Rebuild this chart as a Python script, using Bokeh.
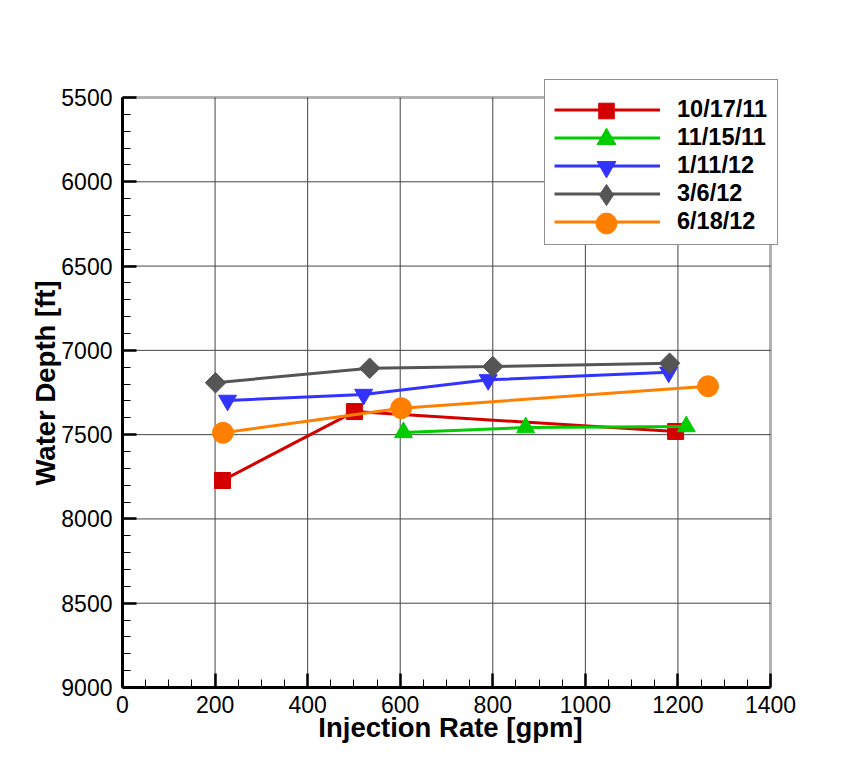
import math
from bokeh.plotting import figure
from bokeh.models import (Range1d, SingleIntervalTicker, Legend, LegendItem,
                          BoxAnnotation, CDSView, IndexFilter)
from bokeh.embed import file_html
from bokeh.resources import INLINE

# ---------------- data ----------------
dates = ["10/17/11", "11/15/11", "1/11/12", "3/6/12", "6/18/12"]
rate_101711 = [216, 501, 1195]
depth_101711 = [7772, 7363, 7481]
rate_111511 = [607, 871, 1218]
depth_111511 = [7487, 7458, 7452]
rate_011112 = [227, 521, 790, 1180]
depth_011112 = [7297, 7262, 7175, 7130]
rate_030612 = [201, 534, 800, 1182]
depth_030612 = [7192, 7106, 7096, 7076]
rate_061812 = [217, 602, 1265]
depth_061812 = [7489, 7343, 7213]

x_ticks = [0, 200, 400, 600, 800, 1000, 1200, 1400]
y_ticks = [5500, 6000, 6500, 7000, 7500, 8000, 8500, 9000]

series = [
    (rate_101711, depth_101711),
    (rate_111511, depth_111511),
    (rate_011112, depth_011112),
    (rate_030612, depth_030612),
    (rate_061812, depth_061812),
]

# ---------------- styles ----------------
colors = ["#d40000", "#00cc00", "#3333ff", "#555555", "#ff8000"]
markers = ["square", "triangle", "inverted_triangle", "square", "circle"]
sizes = [16, 18, 18, 14.5, 21]
angles = [0, 0, 0, math.pi / 4, 0]
legend_markers = ["square", "triangle", "inverted_triangle", "diamond", "circle"]
legend_glyph_h = [39, 47, 47, 53, 52]   # legend marker size = 0.4 * glyph height

FONT = "Liberation Sans"

# plot box (visible) and bokeh frame (slightly larger, to host the legend)
X0, X1 = x_ticks[0], x_ticks[-1]
Y0, Y1 = y_ticks[0], y_ticks[-1]
BOX_L, BOX_T, BOX_R, BOX_B = 122, 97, 770, 687
FL, FT, FR, FB = 122, 78, 778, 687
W, H = 851, 756
sx = (BOX_R - BOX_L) / (X1 - X0)
sy = (BOX_B - BOX_T) / (Y1 - Y0)
x_end = X1 + (FR - BOX_R) / sx
y_end = Y0 - (BOX_T - FT) / sy

p = figure(width=W, height=H, output_backend="svg", toolbar_location=None,
           x_range=Range1d(X0, x_end), y_range=Range1d(Y1, y_end),
           min_border_left=FL, min_border_top=FT,
           min_border_right=W - FR, min_border_bottom=H - FB)
p.background_fill_color = "white"
p.border_fill_color = "white"
p.outline_line_color = None
p.grid.visible = False

p.xaxis.ticker = SingleIntervalTicker(interval=200, num_minor_ticks=4)
p.yaxis.ticker = SingleIntervalTicker(interval=500, num_minor_ticks=5)
p.xaxis.bounds = (X0, X1)
p.yaxis.bounds = (Y0, Y1)

for ax in (p.xaxis[0], p.yaxis[0]):
    ax.axis_line_width = 3
    ax.axis_line_color = "black"
    ax.major_tick_in = 14
    ax.major_tick_out = 0
    ax.major_tick_line_width = 2.5
    ax.major_tick_line_color = "black"
    ax.minor_tick_in = 8
    ax.minor_tick_out = 0
    ax.minor_tick_line_width = 1
    ax.minor_tick_line_color = "black"
    ax.major_label_text_font = FONT
    ax.major_label_text_font_size = "23px"
    ax.major_label_text_color = "black"
    ax.axis_label_text_font = FONT
    ax.axis_label_text_font_size = "27.5px"
    ax.axis_label_text_font_style = "bold"
    ax.axis_label_text_color = "black"

p.xaxis.axis_label = "Injection Rate [gpm]"
p.yaxis.axis_label = "Water Depth [ft]"
p.xaxis.major_label_standoff = 8
p.yaxis.major_label_standoff = 10
p.xaxis.axis_label_standoff = -4
p.yaxis.axis_label_standoff = -3

# grid lines, limited to the plot box
gx = x_ticks[1:-1]
gy = y_ticks[1:-1]
p.segment(x0=gx, y0=[Y0] * len(gx), x1=gx, y1=[Y1] * len(gx),
          line_color="#444444", line_width=1, level="underlay")
p.segment(x0=[X0] * len(gy), y0=gy, x1=[X1] * len(gy), y1=gy,
          line_color="#444444", line_width=1, level="underlay")

# thick plot box
p.add_layout(BoxAnnotation(left=X0, right=X1, bottom=Y1, top=Y0,
                           fill_alpha=0, line_color="black", line_width=3))

line_rs, mark_rs = [], []
for (xs, ys), c, m, s, a, lm in zip(series, colors, markers, sizes, angles, legend_markers):
    lr = p.line(xs, ys, line_color=c, line_width=3)
    legend_r = None
    if lm != m:
        # legend-only glyph: a 1px mark hidden under the first real marker
        legend_r = p.scatter(xs, ys, marker=lm, size=1, fill_color=c, line_color=c,
                             view=CDSView(filter=IndexFilter(indices=[0])))
    mr = p.scatter(xs, ys, marker=m, size=s, angle=a, fill_color=c, line_color=c)
    line_rs.append(lr)
    mark_rs.append(legend_r if legend_r is not None else mr)

# ---------------- legend ----------------
LEG_LEFT = 544 - FL            # relative to frame left
LEG_TOP = 80                   # canvas y of legend top
PAD = 9
TITLE_SPACE = 8
ROW_H = 27
SPACING = 1
leg_h = 2 * PAD + TITLE_SPACE + 5 * ROW_H + 4 * SPACING

main = Legend(items=[LegendItem(label=d, renderers=[r]) for d, r in zip(dates, line_rs)],
              location=(LEG_LEFT, FB - (LEG_TOP + leg_h)),
              glyph_width=106, glyph_height=ROW_H, label_height=ROW_H, label_width=91,
              label_standoff=17, spacing=SPACING, padding=PAD, margin=0,
              title=" ", title_text_font_size="7px", title_standoff=0,
              label_text_font=FONT, label_text_font_size="23.5px",
              label_text_font_style="bold", label_text_color="black",
              border_line_color="#222222", border_line_width=1,
              background_fill_color="white", background_fill_alpha=1.0)
p.add_layout(main, "center")

for i, (r, gh) in enumerate(zip(mark_rs, legend_glyph_h)):
    row_c = LEG_TOP + PAD + TITLE_SPACE + ROW_H / 2 + i * (ROW_H + SPACING)
    lg = Legend(items=[LegendItem(label=" ", renderers=[r])],
                location=(LEG_LEFT + PAD, FB - row_c - gh / 2),
                glyph_width=106, glyph_height=gh, label_height=0, label_width=0,
                label_standoff=0, spacing=0, padding=0, margin=0,
                label_text_font_size="1px",
                border_line_color=None, background_fill_alpha=0.0)
    p.add_layout(lg, "center")

open("out.html", "w").write(file_html(p, INLINE))
